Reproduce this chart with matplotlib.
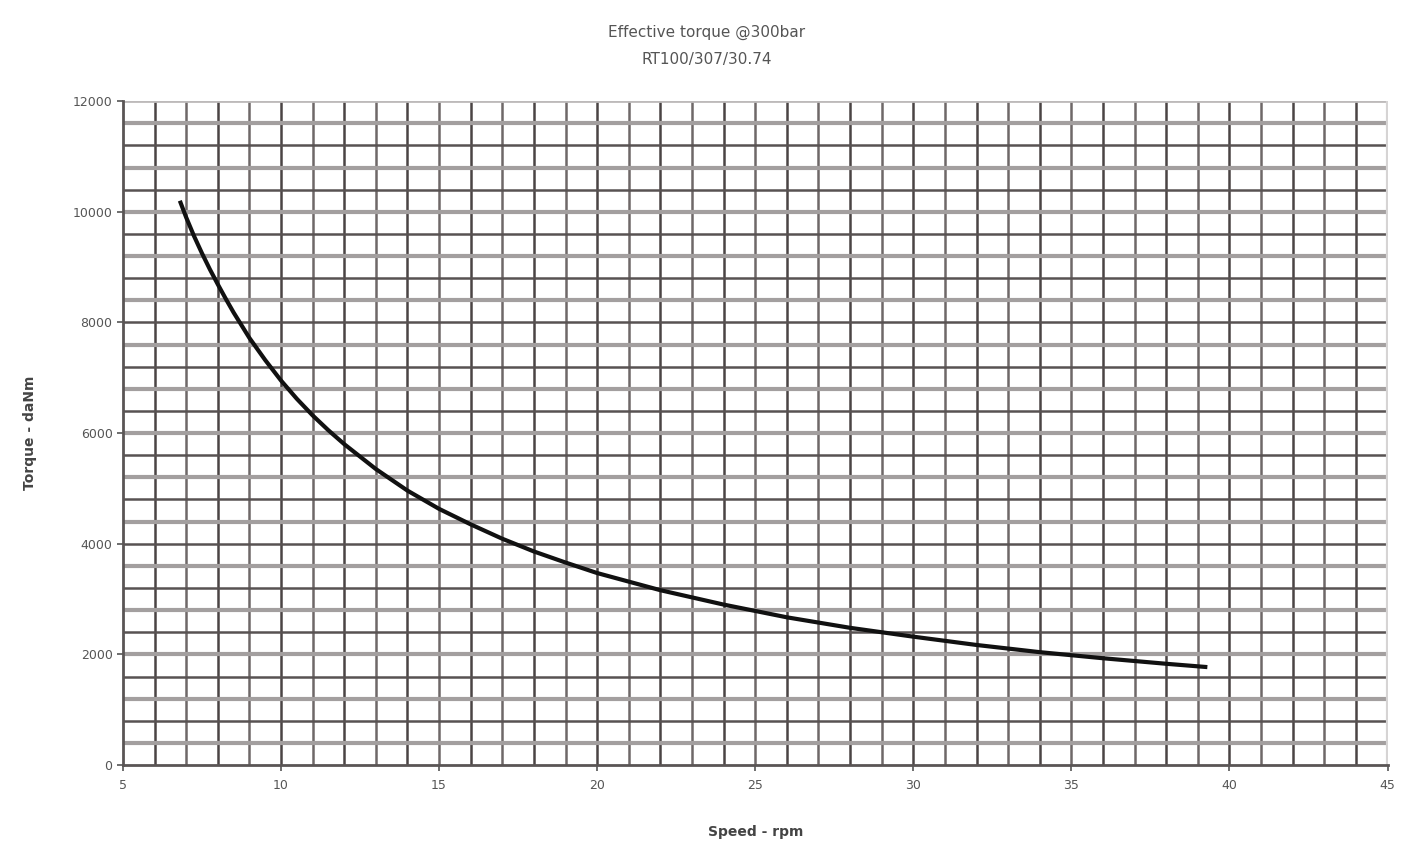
"""
    Effective torque curve on a dense grid
"""

import matplotlib
matplotlib.use("Agg")
import matplotlib.pyplot as plt

# values
speed = [6.8, 7.0, 7.25, 7.5, 7.75, 8.0, 8.25, 8.5, 8.75, 9.0, 9.5, 10.0,
         10.5, 11.0, 11.5, 12.0, 13.0, 14.0, 15.0, 16.0, 17.0, 18.0, 19.0,
         20.0, 22.0, 24.0, 26.0, 28.0, 30.0, 32.0, 34.0, 36.0, 38.0, 39.3]
torque = [10200, 9900, 9560, 9250, 8960, 8690, 8430, 8180, 7950, 7720, 7320,
          6950, 6620, 6320, 6050, 5800, 5350, 4960, 4630, 4350, 4090, 3860,
          3660, 3470, 3160, 2900, 2670, 2480, 2320, 2170, 2040, 1930, 1830,
          1770]

x_ticks = [5, 10, 15, 20, 25, 30, 35, 40, 45]
y_ticks = [0, 2000, 4000, 6000, 8000, 10000, 12000]

fig = plt.figure(figsize=(14.13, 8.43), dpi=100)
ax = fig.add_axes([0.087, 0.0925, 0.895, 0.7875])

ax.set_xlim(5, 45)
ax.set_ylim(0, 12000)

# grid: one line per rpm, one per 400 daNm, alternating tones
for i, xv in enumerate(range(6, 45)):
    cor = "#4a4444" if i % 2 == 0 else "#6e6868"
    ax.axvline(xv, color=cor, lw=1.8, zorder=1)
for i, yv in enumerate(range(400, 12000, 400)):
    if i % 2 == 0:
        ax.axhline(yv, color="#a39f9f", lw=3.0, zorder=1)
    else:
        ax.axhline(yv, color="#585252", lw=1.8, zorder=1)
ax.axhline(12000, color="#bdbaba", lw=2.0, zorder=1)
ax.axvline(45, color="#d6d4d4", lw=3.0, zorder=1)

ax.plot(speed, torque, color="#111111", lw=3.0, solid_capstyle="butt",
        solid_joinstyle="round", zorder=3)

ax.set_xticks(x_ticks)
ax.set_yticks(y_ticks)
ax.tick_params(axis="both", labelsize=9, colors="#555555", length=4,
               width=1.2, labelcolor="#555555")
ax.tick_params(axis="x", pad=6)

for lado in ["top", "right"]:
    ax.spines[lado].set_visible(False)
ax.spines["left"].set_color("#5a5555")
ax.spines["left"].set_linewidth(2.0)
ax.spines["bottom"].set_color("#5a5555")
ax.spines["bottom"].set_linewidth(2.0)

ax.set_xlabel("Speed - rpm", fontsize=10, color="#444444", fontweight="bold")
ax.xaxis.set_label_coords(0.5, -0.09)
ax.set_ylabel("Torque - daNm", fontsize=10, color="#444444", fontweight="bold")
ax.yaxis.set_label_coords(-0.068, 0.5)

fig.text(0.5, 0.962, "Effective torque @300bar", ha="center", va="center",
         fontsize=11, color="#555555")
fig.text(0.5, 0.929, "RT100/307/30.74", ha="center", va="center",
         fontsize=11, color="#555555")

fig.savefig("out.png", dpi=100, facecolor="white")
